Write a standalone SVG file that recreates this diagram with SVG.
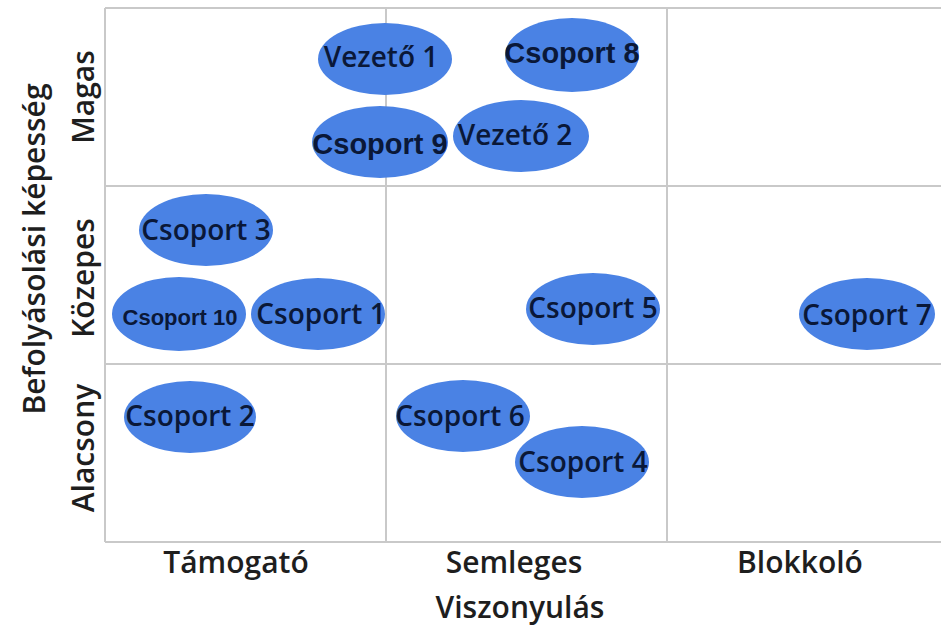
<svg xmlns="http://www.w3.org/2000/svg" width="941" height="632" viewBox="0 0 941 632">
<style>
.grid{stroke:#c9c9c9;stroke-width:2;fill:none}
.n{fill:#4a82e4}
.t{font-family:"Open Sans","Liberation Sans",sans-serif;font-weight:600;font-size:28px;fill:#0a1838;text-anchor:middle}
.b{font-family:"Liberation Sans",Arial,sans-serif;font-weight:bold;font-size:29px;fill:#0a1838;text-anchor:middle}
.ax{font-family:"Open Sans","Liberation Sans",sans-serif;font-weight:600;font-size:30px;fill:#1e1e1e;text-anchor:middle}
</style>
<rect width="941" height="632" fill="#ffffff"/>
<g id="grid">
<line class="grid" x1="105" y1="8" x2="941" y2="8"/>
<line class="grid" x1="105" y1="186" x2="941" y2="186"/>
<line class="grid" x1="105" y1="364" x2="941" y2="364"/>
<line class="grid" x1="105" y1="542" x2="941" y2="542"/>
<line class="grid" x1="105" y1="8" x2="105" y2="542"/>
<line class="grid" x1="386" y1="8" x2="386" y2="542"/>
<line class="grid" x1="667" y1="8" x2="667" y2="542"/>
</g>
<g id="connectors"></g>
<g id="vezeto1"><ellipse class="n" cx="385" cy="59" rx="67" ry="36"/><text class="t" x="381" y="67">Vezető 1</text></g>
<g id="csoport8"><ellipse class="n" cx="572" cy="55" rx="67" ry="37"/><text class="b" x="572" y="63">Csoport 8</text></g>
<g id="csoport9"><ellipse class="n" cx="380" cy="142" rx="68" ry="36"/><text class="b" x="380" y="154">Csoport 9</text></g>
<g id="vezeto2"><ellipse class="n" cx="521" cy="136" rx="68" ry="36"/><text class="t" x="515" y="145">Vezető 2</text></g>
<g id="csoport3"><ellipse class="n" cx="206" cy="230" rx="67" ry="36"/><text class="t" x="206" y="240">Csoport 3</text></g>
<g id="csoport10"><ellipse class="n" cx="179" cy="314" rx="67" ry="37"/><text class="b" x="180" y="325" style="font-size:22px">Csoport 10</text></g>
<g id="csoport1"><ellipse class="n" cx="318" cy="314" rx="67" ry="36"/><text class="t" x="321" y="324">Csoport 1</text></g>
<g id="csoport5"><ellipse class="n" cx="593" cy="309" rx="67" ry="36"/><text class="t" x="593" y="318">Csoport 5</text></g>
<g id="csoport7"><ellipse class="n" cx="867" cy="314" rx="68" ry="36"/><text class="t" x="867" y="325">Csoport 7</text></g>
<g id="csoport2"><ellipse class="n" cx="190" cy="417" rx="66" ry="36"/><text class="t" x="190" y="426">Csoport 2</text></g>
<g id="csoport6"><ellipse class="n" cx="463" cy="416" rx="67" ry="36"/><text class="t" x="460" y="426">Csoport 6</text></g>
<g id="csoport4"><ellipse class="n" cx="582" cy="462" rx="67" ry="36"/><text class="t" x="583" y="472">Csoport 4</text></g>
<g id="axes">
<text class="ax" x="236" y="573">Támogató</text>
<text class="ax" x="514" y="573">Semleges</text>
<text class="ax" x="800" y="573">Blokkoló</text>
<text class="ax" x="520" y="618">Viszonyulás</text>
<text class="ax" transform="translate(94,97) rotate(-90)">Magas</text>
<text class="ax" transform="translate(94,278) rotate(-90)">Közepes</text>
<text class="ax" transform="translate(94,448) rotate(-90)">Alacsony</text>
<text class="ax" transform="translate(45,249) rotate(-90)">Befolyásolási képesség</text>
</g>
</svg>
